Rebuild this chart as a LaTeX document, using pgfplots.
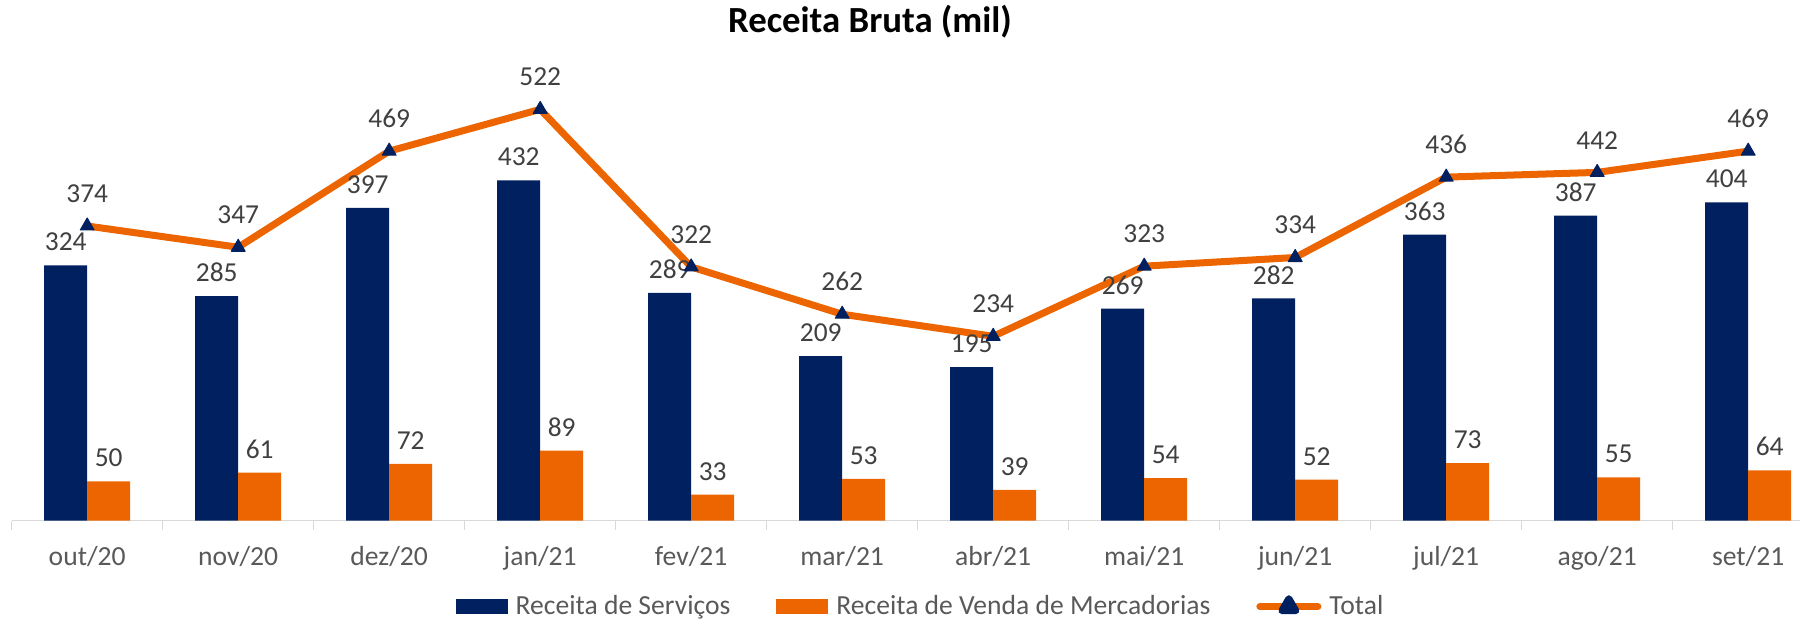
\documentclass[border=0pt]{standalone}
\usepackage{pgfplots}
\pgfplotsset{compat=1.18}
\usepackage{fontspec}
\setmainfont{Carlito}
\definecolor{navy}{HTML}{002060}
\definecolor{orng}{HTML}{EC6500}
\definecolor{lblgray}{HTML}{404040}
\definecolor{txtgray}{HTML}{595959}
\definecolor{axgray}{HTML}{D9D9D9}
\begin{document}
\begin{tikzpicture}[x=1pt,y=1pt]
\useasboundingbox (0,0) rectangle (900,310);
\begin{axis}[
  at={(5.85pt,49.65pt)}, anchor=south west,
  scale only axis, width=906pt, height=236.4pt,
  xmin=-0.5, xmax=11.5, ymin=0, ymax=600,
  axis x line*=bottom, axis y line=none,
  x axis line style={draw=axgray, line width=0.75pt, -},
  xtick={0,...,11},
  xticklabels={out/20,nov/20,dez/20,jan/21,fev/21,mar/21,abr/21,mai/21,jun/21,jul/21,ago/21,set/21},
  major tick length=0pt,
  minor xtick={-0.5,0.5,...,11.5},
  minor tick length=4.5pt,
  xtick align=outside,
  minor tick style={draw=axgray, line width=0.75pt},
  xticklabel style={font=\fontsize{13.8}{16}\selectfont, text=txtgray, anchor=base, yshift=-22.65pt},
  clip=false,
  /pgf/number format/assume math mode=true,
  legend columns=3,
  legend style={at={(0.5021,-0.1819)}, anchor=center, draw=none, fill=none,
    font=\fontsize{13.8}{16}\selectfont, text=txtgray,
    /tikz/every odd column/.append style={column sep=2pt},
    /tikz/every even column/.append style={column sep=21pt}},
]
\addplot[ybar, bar width=21.5pt, bar shift=-10.75pt, fill=navy, draw=none,
  nodes near coords, every node near coord/.append style={font=\fontsize{13.7}{16}\selectfont, text=lblgray, anchor=south, xshift=-10.75pt, yshift=3.6pt},
  legend image code/.code={\fill[navy] (0pt,-3.75pt) rectangle (26pt,3.75pt);}]
  coordinates {(0,324) (1,285) (2,397) (3,432) (4,289) (5,209) (6,195) (7,269) (8,282) (9,363) (10,387) (11,404)};
\addlegendentry{Receita de Serviços}
\addplot[ybar, bar width=21.5pt, bar shift=10.75pt, fill=orng, draw=none,
  nodes near coords, every node near coord/.append style={font=\fontsize{13.7}{16}\selectfont, text=lblgray, anchor=south, xshift=10.75pt, yshift=3.6pt},
  legend image code/.code={\fill[orng] (0pt,-3.75pt) rectangle (26pt,3.75pt);}]
  coordinates {(0,50) (1,61) (2,72) (3,89) (4,33) (5,53) (6,39) (7,54) (8,52) (9,73) (10,55) (11,64)};
\addlegendentry{Receita de Venda de Mercadorias}
\addplot[orng, line width=3.5pt, line join=round, mark=triangle*, mark size=4pt,
  mark options={fill=navy, draw=navy, line width=0.5pt},
  nodes near coords, every node near coord/.append style={font=\fontsize{13.7}{16}\selectfont, text=lblgray, anchor=south, yshift=8.1pt},
  legend image code/.code={\draw[orng, line width=3.5pt, line cap=round] (0pt,0pt) -- (29pt,0pt);
    \fill[navy] (14.5pt,0pt) ++(90:4pt) -- ++(-120:6.93pt) -- ++(0:6.93pt) -- cycle;}]
  coordinates {(0,374) (1,347) (2,469) (3,522) (4,322) (5,262) (6,234) (7,323) (8,334) (9,436) (10,442) (11,469)};
\addlegendentry{Total}
\end{axis}
\node[anchor=base, font=\bfseries\fontsize{18.4}{22}\selectfont] at (435,293.5) {Receita Bruta (mil)};
\end{tikzpicture}
\end{document}
